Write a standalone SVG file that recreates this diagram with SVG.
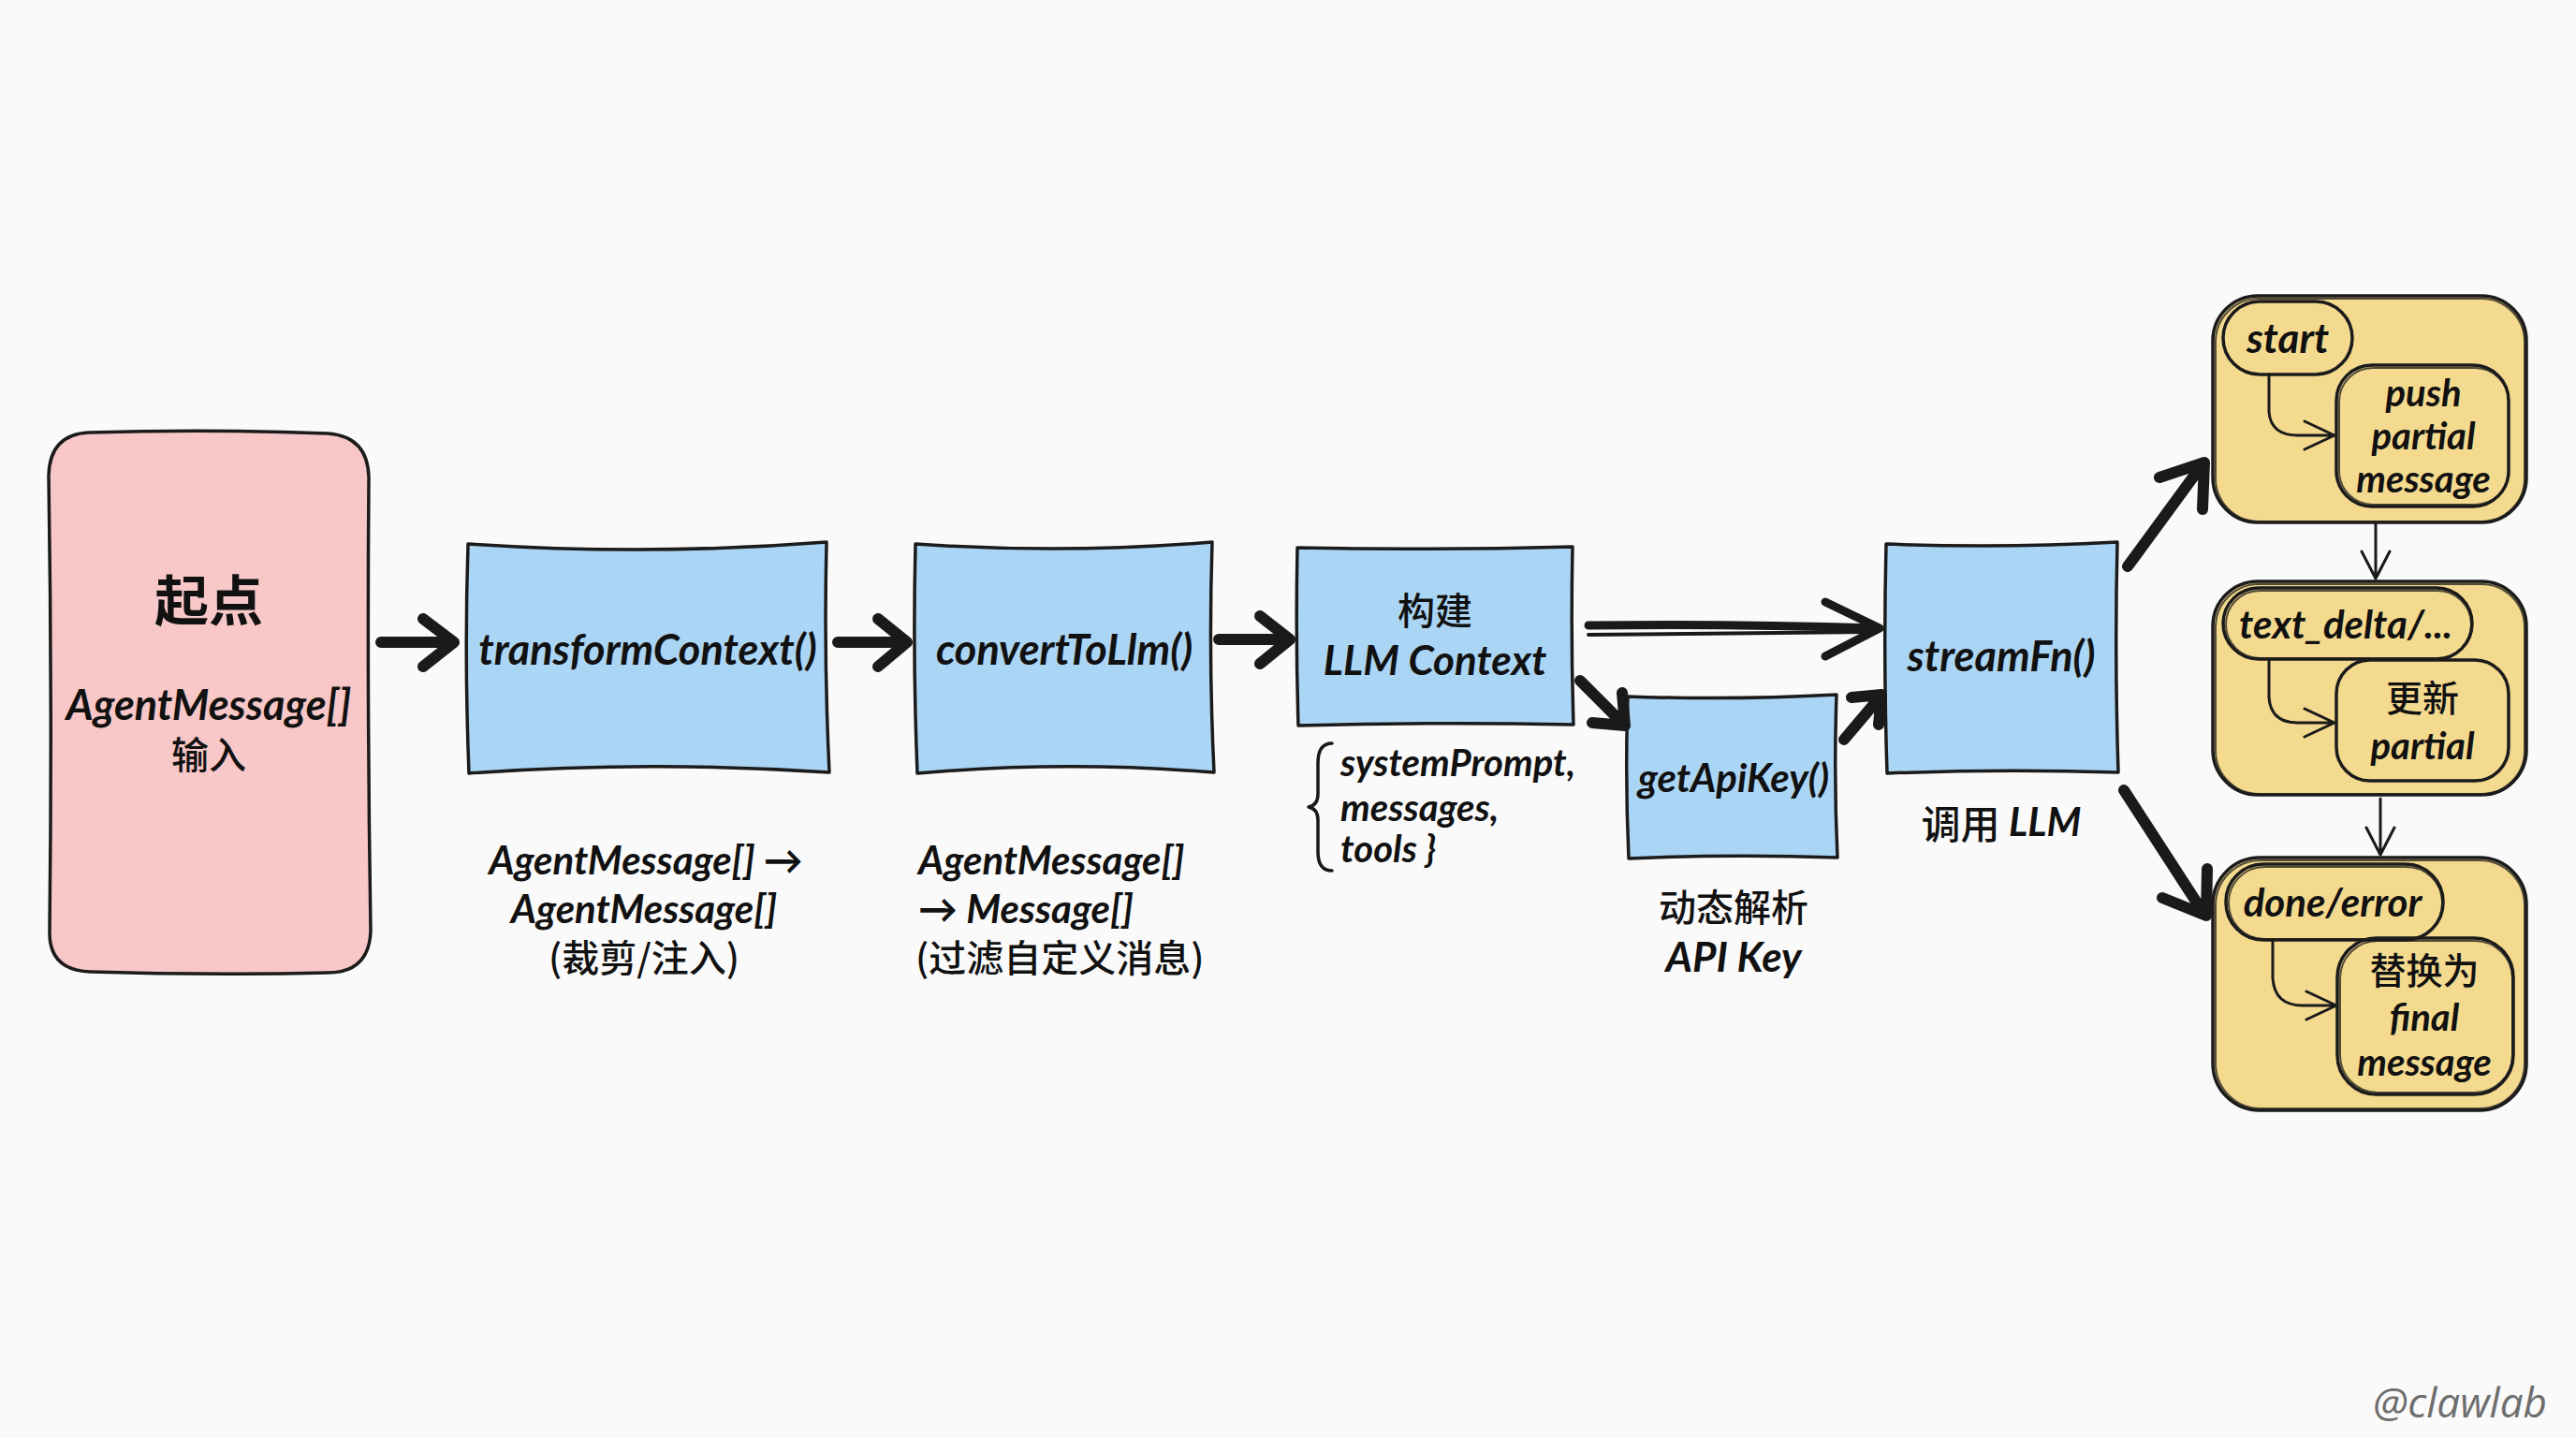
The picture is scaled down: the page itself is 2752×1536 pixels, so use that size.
<svg xmlns="http://www.w3.org/2000/svg" width="2752" height="1536" viewBox="0 0 2752 1536">
<style>
.bg{fill:#fafafa}
.ol{stroke:#1b1b1b;stroke-width:3.5;stroke-linejoin:round;stroke-linecap:round}
.ol2{fill:none;stroke:#1b1b1b;stroke-width:2;opacity:.75}
.pink{fill:#f8c7c7}
.blue{fill:#abd5f5}
.yel{fill:#f4da8f}
.t{font-family:Lato,"Noto Sans CJK SC",sans-serif;font-style:italic;font-weight:700;fill:#111;text-anchor:middle;dominant-baseline:central}
.s44{font-size:44px}
.s42{font-size:42px}
.s40{font-size:40px}
.s39{font-size:39px}
.cjk{font-family:"Noto Sans CJK SC",sans-serif;font-style:normal;font-weight:500}
.ar{fill:none;stroke:#1a1a1a;stroke-linecap:round;stroke-linejoin:round}
.thick{stroke-width:12}
.mid{stroke-width:9}
.thin{stroke-width:3}
</style>
<rect class="bg" x="0" y="0" width="2752" height="1536"/>

<g id="node-start">
<path class="pink ol" d="M95,462 Q223,458 350,463 Q393,466 394,510 Q392,750 396,995 Q394,1039 350,1039 Q223,1042 96,1038 Q52,1036 53,995 Q56,750 52,508 Q53,464 95,462 Z"/>
<text class="t cjk" x="223" y="638" style="font-size:58px;font-weight:700">起点</text>
<text class="t" x="223" y="752" style="font-size:45px">AgentMessage[]</text>
<text class="t cjk s40" x="223" y="804">输入</text>
</g>

<g id="node-transform">
<path class="blue ol" d="M500,581 Q692,594 883,579 Q880,702 886,825 Q692,812 501,826 Q496,702 500,581 Z"/>
<text class="t" x="692" y="693" style="font-size:45px">transformContext()</text>
<text class="t s42" x="690" y="918">AgentMessage[] →</text>
<text class="t s42" x="688" y="970">AgentMessage[]</text>
<text class="t cjk s40" x="688" y="1021">(裁剪/注入)</text>
</g>

<g id="node-convert">
<path class="blue ol" d="M978,581 Q1137,592 1295,579 Q1291,702 1297,825 Q1137,812 980,826 Q975,702 978,581 Z"/>
<text class="t" x="1137" y="693" style="font-size:45px">convertToLlm()</text>
<text class="t s42" x="981" y="918" style="text-anchor:start">AgentMessage[]</text>
<text class="t s42" x="981" y="970" style="text-anchor:start">→ Message[]</text>
<text class="t cjk s40" x="978" y="1021" style="text-anchor:start">(过滤自定义消息)</text>
</g>

<g id="node-build">
<path class="blue ol" d="M1386,585 Q1533,588 1680,584 Q1678,680 1681,774 Q1533,771 1387,775 Q1384,680 1386,585 Z"/>
<text class="t cjk s40" x="1533" y="650">构建</text>
<text class="t s44" x="1533" y="704">LLM Context</text>
<path class="ar" style="stroke-width:3.5" d="M1423,794 Q1408,794 1408,815 L1408,848 Q1408,860 1398,862 Q1408,864 1408,876 L1408,910 Q1408,930 1423,930"/>
<text class="t s40" x="1432" y="814" style="text-anchor:start">systemPrompt,</text>
<text class="t s40" x="1432" y="862" style="text-anchor:start">messages,</text>
<text class="t s40" x="1432" y="906" style="text-anchor:start">tools }</text>
</g>

<g id="node-apikey">
<path class="blue ol" d="M1739,744 Q1850,748 1962,742 Q1959,830 1963,916 Q1850,912 1740,917 Q1736,830 1739,744 Z"/>
<text class="t s42" x="1852" y="830">getApiKey()</text>
<text class="t cjk s40" x="1852" y="967">动态解析</text>
<text class="t s44" x="1852" y="1021">API Key</text>
</g>

<g id="node-stream">
<path class="blue ol" d="M2015,581 Q2138,586 2262,579 Q2259,702 2263,825 Q2138,821 2016,826 Q2012,702 2015,581 Z"/>
<text class="t" x="2138" y="700" style="font-size:45px">streamFn()</text>
<text class="t s42" x="2138" y="877"><tspan class="cjk">调用 </tspan>LLM</text>
</g>

<g id="node-ev-start">
<rect class="yel ol" x="2364" y="316" width="335" height="242" rx="48"/>
<rect class="ol2" x="2367" y="319" width="330" height="238" rx="46"/>
<rect class="ol" fill="none" x="2375" y="322" width="138" height="78" rx="39"/>
<text class="t s44" x="2444" y="360">start</text>
<rect class="ol" fill="none" x="2496" y="390" width="184" height="151" rx="38"/>
<rect class="ol2" x="2499" y="393" width="181" height="146" rx="36"/>
<text class="t s40" x="2589" y="419">push</text>
<text class="t s40" x="2589" y="465">partial</text>
<text class="t s40" x="2589" y="511">message</text>
</g>

<g id="node-ev-delta">
<rect class="yel ol" x="2364" y="621" width="335" height="228" rx="48"/>
<rect class="ol2" x="2367" y="624" width="330" height="224" rx="46"/>
<rect class="ol" fill="none" x="2375" y="628" width="266" height="76" rx="38"/>
<rect class="ol2" x="2378" y="631" width="262" height="72" rx="36"/>
<text class="t s42" x="2506" y="666">text_delta/...</text>
<rect class="ol" fill="none" x="2496" y="705" width="184" height="129" rx="36"/>
<text class="t cjk s39" x="2588" y="743">更新</text>
<text class="t s40" x="2588" y="796">partial</text>
</g>

<g id="node-ev-done">
<rect class="yel ol" x="2364" y="916" width="335" height="270" rx="50"/>
<rect class="ol2" x="2367" y="919" width="330" height="265" rx="48"/>
<rect class="ol" fill="none" x="2378" y="923" width="232" height="81" rx="40"/>
<rect class="ol2" x="2381" y="926" width="228" height="77" rx="38"/>
<text class="t s42" x="2492" y="963">done/error</text>
<rect class="ol" fill="none" x="2497" y="1002" width="188" height="167" rx="42"/>
<rect class="ol2" x="2500" y="1005" width="184" height="162" rx="40"/>
<text class="t cjk s39" x="2590" y="1034">替换为</text>
<text class="t s40" x="2590" y="1086">final</text>
<text class="t s40" x="2590" y="1134">message</text>
</g>

<g id="connectors">
<path class="ar thick" d="M407,686 L482,686 M452,661 L485,686 L452,712"/>
<path class="ar thick" d="M895,686 L966,686 M938,661 L969,686 L938,712"/>
<path class="ar thick" d="M1302,683 L1375,683 M1346,658 L1378,683 L1346,709"/>
<path class="ar mid" d="M1697,668 Q1850,666 2005,671 M1950,643 L2008,671 L1950,701"/>
<path class="ar" style="stroke-width:4" d="M1697,678 Q1850,676 1995,675"/>
<path class="ar thick" d="M1688,727 L1733,772 M1701,772 L1736,775 L1733,740"/>
<path class="ar thick" d="M1970,790 L2008,745 M2007,774 L2010,742 L1978,745"/>
<path class="ar thick" d="M2273,605 L2350,500 M2353,544 L2355,494 L2307,510"/>
<path class="ar thick" d="M2269,844 L2352,972 M2310,959 L2357,978 L2358,928"/>
<path class="ar thin" d="M2538,560 L2538,618 M2523,589 L2538,618 L2553,589"/>
<path class="ar thin" d="M2543,853 L2543,913 M2528,884 L2543,913 L2558,884"/>
<path class="ar thin" d="M2424,400 L2424,440 Q2426,465 2455,465 L2492,465 M2462,450 L2494,465 L2462,480"/>
<path class="ar thin" d="M2424,704 L2424,745 Q2426,772 2455,772 L2492,772 M2462,757 L2494,772 L2462,787"/>
<path class="ar thin" d="M2428,1004 L2428,1045 Q2430,1074 2460,1074 L2494,1074 M2464,1059 L2496,1074 L2464,1089"/>
</g>

<text x="2628" y="1497" style="font-family:'Open Sans','Liberation Sans',sans-serif;font-style:italic;font-size:44px;fill:#6e6e6e;text-anchor:middle;dominant-baseline:central">@clawlab</text>
</svg>
